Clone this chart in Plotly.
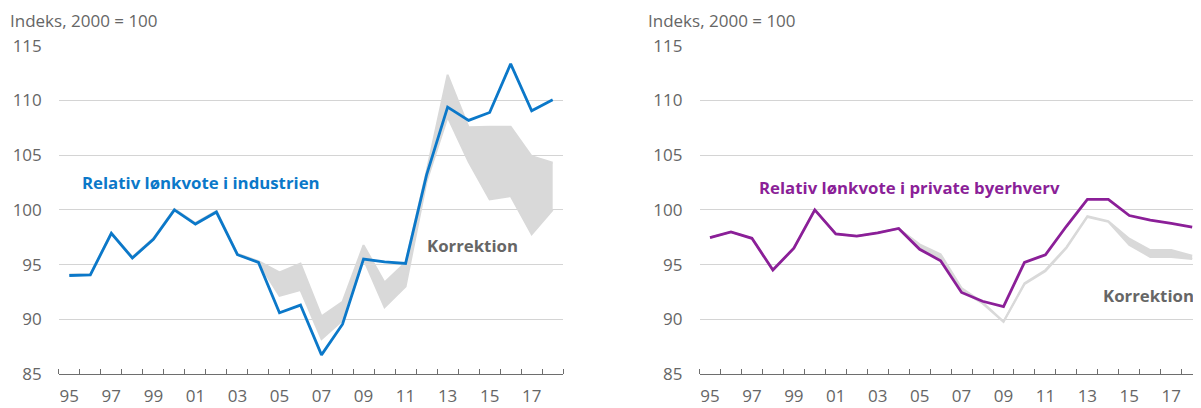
import plotly.graph_objects as go

years = list(range(1995, 2019))

# Left panel: relative wage share in manufacturing
industri = [94.0, 94.06, 97.86, 95.6, 97.3, 100.0, 98.7, 99.8, 95.9, 95.2, 90.6, 91.3,
            86.75, 89.55, 95.5, 95.25, 95.1, 103.2, 109.39, 108.18, 108.9, 113.34, 109.06, 110.06]
korr_ind_hi = [94.1, 94.1, 97.9, 95.7, 97.4, 100.1, 98.8, 99.9, 96.0, 95.3, 94.28, 95.1,
               90.27, 91.6, 96.77, 93.37, 95.2, 103.5, 112.34, 107.54, 107.6, 107.6, 104.9, 104.3]
korr_ind_lo = [94.0, 94.06, 97.86, 95.6, 97.3, 100.0, 98.7, 99.8, 95.9, 95.2, 92.15, 92.67,
               88.2, 89.9, 95.5, 91.1, 93.0, 102.6, 108.5, 104.4, 100.95, 101.26, 97.77, 100.0]

# Right panel: relative wage share in private urban industries
private = [97.47, 97.98, 97.4, 94.5, 96.5, 100.0, 97.8, 97.6, 97.9, 98.3, 96.4, 95.35,
           92.45, 91.65, 91.15, 95.2, 95.9, 98.5, 100.95, 100.95, 99.48, 99.06, 98.76, 98.42]
korr_priv_hi = [97.47, 97.98, 97.4, 94.5, 96.5, 100.0, 97.8, 97.6, 97.9, 98.3, 96.85, 95.95,
                92.85, 91.55, 89.8, 93.3, 94.5, 96.6, 99.42, 98.97, 97.36, 96.33, 96.33, 95.8]
korr_priv_lo = [97.47, 97.98, 97.4, 94.5, 96.5, 100.0, 97.8, 97.6, 97.9, 98.3, 96.5, 95.5,
                92.6, 91.45, 89.75, 93.2, 94.4, 96.5, 99.35, 98.9, 96.8, 95.7, 95.7, 95.5]

tick_years = list(range(1995, 2018, 2))
tick_text = [f"{y % 100:02d}" for y in tick_years]
y_ticks = [85, 90, 95, 100, 105, 110, 115]

BLUE = "#0b78c9"
PURPLE = "#8b1f98"
GREY = "#d9d9d9"
TXT = "#666666"
FONT = "Open Sans"

OFF = 8          # page body margin of the html page
W, H = 1193, 400

fig = go.Figure()

def band(lo, hi, xa, ya):
    fig.add_trace(go.Scatter(x=years, y=lo, mode="lines", line=dict(color=GREY, width=2),
                             xaxis=xa, yaxis=ya, showlegend=False, hoverinfo="skip"))
    fig.add_trace(go.Scatter(x=years, y=hi, mode="lines", line=dict(color=GREY, width=2),
                             fill="tonexty", fillcolor=GREY,
                             xaxis=xa, yaxis=ya, showlegend=False, hoverinfo="skip"))

band(korr_ind_lo, korr_ind_hi, "x", "y")
fig.add_trace(go.Scatter(x=years, y=industri, mode="lines", line=dict(color=BLUE, width=2.8),
                         xaxis="x", yaxis="y", showlegend=False))
band(korr_priv_lo, korr_priv_hi, "x2", "y2")
fig.add_trace(go.Scatter(x=years, y=private, mode="lines", line=dict(color=PURPLE, width=2.8),
                         xaxis="x2", yaxis="y2", showlegend=False))

def fx(px):
    return (px - OFF) / W

def fy(py):
    return 1 - (py - OFF) / H

ydom = [fy(374), fy(45.7)]

def xaxis(dom, rng, anchor):
    return dict(domain=dom, range=rng, anchor=anchor, tickvals=tick_years, ticktext=tick_text,
                ticks="", showgrid=False, zeroline=False, showline=True, linecolor="#6e6e6e",
                linewidth=1.3, automargin=False, ticklabelstandoff=6,
                tickfont=dict(family=FONT, size=17, color=TXT),
                minor=dict(tick0=1994.5, dtick=1, ticks="inside", ticklen=5,
                           tickcolor="#6e6e6e", tickwidth=1.2, showgrid=False))

def yaxis(anchor):
    return dict(domain=ydom, range=[85, 115], anchor=anchor, tickvals=y_ticks,
                showgrid=True, gridcolor="#d4d4d4", gridwidth=1, zeroline=False,
                showline=False, ticks="", ticklabelstandoff=16, automargin=False,
                tickfont=dict(family=FONT, size=17, color=TXT))

fig.update_layout(
    template="none",
    width=W, height=H,
    margin=dict(l=0, r=0, t=0, b=0, pad=0, autoexpand=False),
    paper_bgcolor="white", plot_bgcolor="white",
    xaxis=xaxis([fx(58.8), fx(563.2)], [1994.5, 2018.5], "y"),
    yaxis=yaxis("x"),
    xaxis2=xaxis([fx(699.5), 1.0], [1994.5, 2018.42], "y2"),
    yaxis2=yaxis("x2"),
)

def ann(text, px, py, color, size, bold=False, yanchor="middle"):
    fig.add_annotation(text=f"<b>{text}</b>" if bold else text, xref="paper", yref="paper",
                       x=fx(px), y=fy(py), xanchor="left", yanchor=yanchor, borderpad=0,
                       showarrow=False, font=dict(family=FONT, size=size, color=color))

ann("Indeks, 2000 = 100", 9, OFF, TXT, 17, yanchor="top")
ann("Indeks, 2000 = 100", 647, OFF, TXT, 17, yanchor="top")
ann("Relativ lønkvote i industrien", 81, 182, BLUE, 16.8, True)
ann("Korrektion", 426, 245, TXT, 16.8, True)
ann("Relativ lønkvote i private byerhverv", 758, 187, PURPLE, 16.8, True)
ann("Korrektion", 1102, 295, TXT, 16.8, True)

fig.write_html("out.html")
